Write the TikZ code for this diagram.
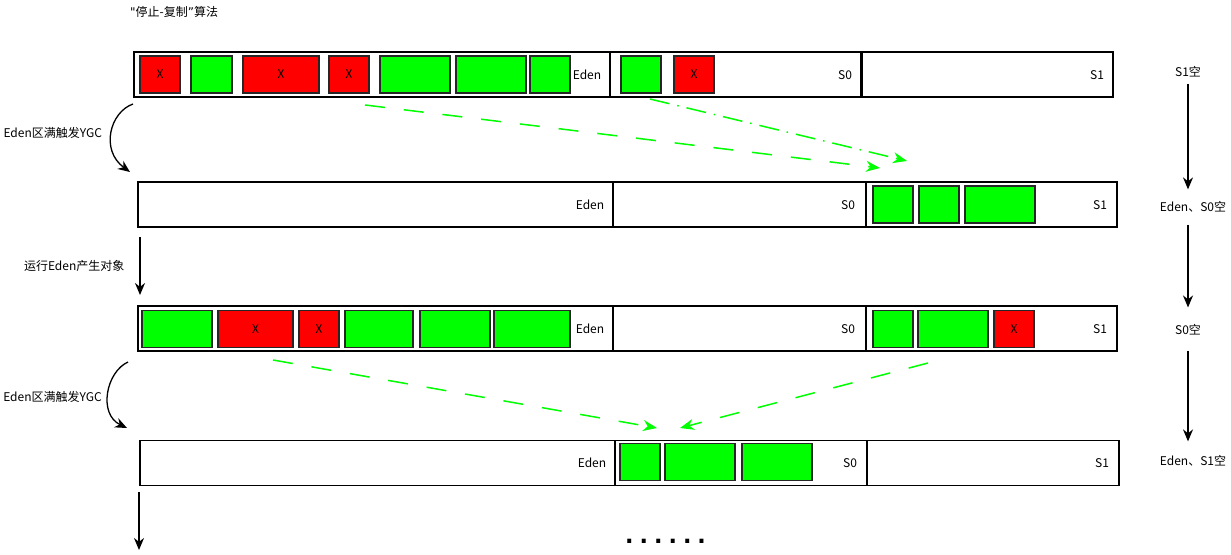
\documentclass[tikz,border=0pt]{standalone}
\usepackage{fontspec}
\setmainfont{Noto Sans CJK SC}
\setmonofont{DejaVu Sans Mono}
\newfontfamily\quotefont{DejaVu Sans}
\usetikzlibrary{arrows.meta}

\begin{document}
\begin{tikzpicture}[x=1pt, y=-1pt,
		reg/.style = {rectangle, draw=black, fill=white, line width=1.5pt, minimum height=45, inner sep=0},
		live/.style = {rectangle, draw=black!85, fill=green, line width=1.3pt, minimum height=37, inner sep=0},
		dead/.style = {rectangle, draw=black!85, fill=red, line width=1.3pt, minimum height=37, inner sep=0, font=\fontsize{12}{14}\selectfont},
		lbl/.style = {inner sep=0, font=\fontsize{12}{14}\selectfont},
		r/.style = {-{Stealth[length=12pt, width=10pt]}, line width=1.3pt},
		mv/.style = {-{Stealth[length=14pt, width=11pt]}, line width=1.5pt, draw=green, dash pattern=on 20pt off 19pt},
		mvdot/.style = {-{Stealth[length=14pt, width=11pt]}, line width=1.5pt, draw=green, dash pattern=on 20pt off 8pt on 1.5pt off 8pt}
		]
		\useasboundingbox (0,0) rectangle (1231,554);
		
		%Title
		\node[lbl, anchor=west]	(title)	at	(130,12)	{{\quotefont"}停止-复制{\quotefont”}算法};
		
		%Row 1
		\node[reg, minimum width=476]	(eden1)		at	(372,74.5)		{};
		\node[reg, minimum width=251]	(szero1)	at	(735.5,74.5)	{};
		\node[reg, minimum width=251]	(sone1)		at	(987.5,74.5)	{};
		\node[dead, minimum width=40]	(b11)	at	(160,74.5)		{X};
		\node[live, minimum width=41]	(b12)	at	(211.5,74.5)	{};
		\node[dead, minimum width=76]	(b13)	at	(281,74.5)		{X};
		\node[dead, minimum width=40]	(b14)	at	(349,74.5)		{X};
		\node[live, minimum width=70]	(b15)	at	(415,74.5)		{};
		\node[live, minimum width=70]	(b16)	at	(491,74.5)		{};
		\node[live, minimum width=40]	(b17)	at	(550,74.5)		{};
		\node[live, minimum width=40]	(b18)	at	(641,74.5)		{};
		\node[dead, minimum width=40]	(b19)	at	(694,74.5)		{X};
		\node[lbl]	(le1)	at	(587,75)	{Eden};
		\node[lbl]	(lsz1)	at	(845,75)	{S0};
		\node[lbl]	(lso1)	at	(1097,75)	{S1};
		
		%Row 2
		\node[reg, minimum width=475]	(eden2)		at	(375.5,204.5)	{};
		\node[reg, minimum width=253]	(szero2)	at	(739.5,204.5)	{};
		\node[reg, minimum width=251]	(sone2)		at	(991.5,204.5)	{};
		\node[live, minimum width=40]	(b21)	at	(893,204.5)		{};
		\node[live, minimum width=40]	(b22)	at	(939,204.5)		{};
		\node[live, minimum width=70]	(b23)	at	(1000,204.5)	{};
		\node[lbl]	(le2)	at	(590,205)	{Eden};
		\node[lbl]	(lsz2)	at	(848,205)	{S0};
		\node[lbl]	(lso2)	at	(1100,205)	{S1};
		
		%Row 3
		\node[reg, minimum width=475]	(eden3)		at	(375.5,328.5)	{};
		\node[reg, minimum width=253]	(szero3)	at	(739.5,328.5)	{};
		\node[reg, minimum width=251]	(sone3)		at	(991.5,328.5)	{};
		\node[live, minimum width=70]	(b31)	at	(177,329)		{};
		\node[dead, minimum width=75]	(b32)	at	(255.5,329)		{X};
		\node[dead, minimum width=40]	(b33)	at	(319,329)		{X};
		\node[live, minimum width=68]	(b34)	at	(379,329)		{};
		\node[live, minimum width=70]	(b35)	at	(455,329)		{};
		\node[live, minimum width=76]	(b36)	at	(532,329)		{};
		\node[live, minimum width=40]	(b37)	at	(893,329)		{};
		\node[live, minimum width=70]	(b38)	at	(953,329)		{};
		\node[dead, minimum width=40]	(b39)	at	(1014,329)		{X};
		\node[lbl]	(le3)	at	(590,329)	{Eden};
		\node[lbl]	(lsz3)	at	(848,329)	{S0};
		\node[lbl]	(lso3)	at	(1100,329)	{S1};
		
		%Row 4
		\node[reg, minimum width=475]	(eden4)		at	(377.5,463)		{};
		\node[reg, minimum width=252]	(szero4)	at	(741,463)		{};
		\node[reg, minimum width=252]	(sone4)		at	(993,463)		{};
		\node[live, minimum width=40]	(b41)	at	(640,462)		{};
		\node[live, minimum width=70]	(b42)	at	(700,462)		{};
		\node[live, minimum width=70]	(b43)	at	(777,462)		{};
		\node[lbl]	(le4)	at	(592,463)	{Eden};
		\node[lbl]	(lsz4)	at	(850,463)	{S0};
		\node[lbl]	(lso4)	at	(1102,463)	{S1};
		
		\node[anchor=base west, inner sep=0, font=\ttfamily\bfseries\fontsize{24}{24}\selectfont]	(dots)	at	(622,543)	{......};
		
		%States
		\node[lbl]	(st1)	at	(1188,72)	{S1空};
		\node[lbl]	(st2)	at	(1193,207)	{Eden、S0空};
		\node[lbl]	(st3)	at	(1188,330)	{S0空};
		\node[lbl]	(st4)	at	(1193,461)	{Eden、S1空};
		
		%Coordinates
		\coordinate	(ygc1a)	at	(133,104);
		\coordinate	(ygc1b)	at	(130,172);
		\coordinate	(runa)	at	(140,237);
		\coordinate	(runb)	at	(140,295);
		\coordinate	(ygc2a)	at	(128,362);
		\coordinate	(ygc2b)	at	(127,428);
		\coordinate	(enda)	at	(139,492);
		\coordinate	(endb)	at	(139,550);
		\coordinate	(m1a)	at	(365,105);
		\coordinate	(m1b)	at	(880,168);
		\coordinate	(m2a)	at	(650,99);
		\coordinate	(m2b)	at	(907,161);
		\coordinate	(m3a)	at	(273,360);
		\coordinate	(m3b)	at	(657,428);
		\coordinate	(m4a)	at	(928,363);
		\coordinate	(m4b)	at	(680,428);
		
		%Lines
		\draw[r]	(ygc1a)	.. controls (110,112) and (100,150) ..	node[lbl, left=9]	{Eden区满触发YGC}	(ygc1b);
		\draw[r]	(runa)	--	node[lbl, left=15]	{运行Eden产生对象}	(runb);
		\draw[r]	(ygc2a)	.. controls (106,372) and (98,414) ..	node[lbl, left=6, yshift=-3]	{Eden区满触发YGC}	(ygc2b);
		\draw[r]	(enda)	--	(endb);
		\draw[r, shorten <=6, shorten >=12]		(st1)	--	(st1 |- st2.north);
		\draw[r, shorten <=12, shorten >=17]	(st3 |- st2.south)	--	(st3);
		\draw[r, shorten <=15, shorten >=14]	(st3)	--	(st3 |- st4.north);
		
		\draw[mv]		(m1a)	--	(m1b);
		\draw[mvdot]	(m2a)	--	(m2b);
		\draw[mv]		(m3a)	--	(m3b);
		\draw[mv]		(m4a)	--	(m4b);
	\end{tikzpicture}
\end{document}
